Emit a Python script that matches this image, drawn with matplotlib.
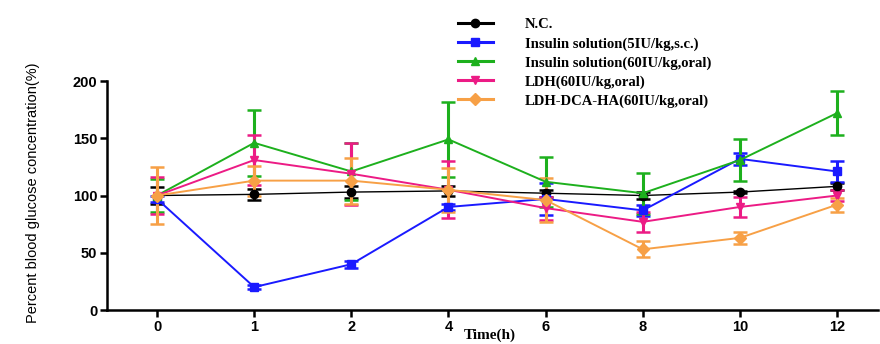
import matplotlib.pyplot as plt
from matplotlib.lines import Line2D
import numpy as np

times = ["0", "1", "2", "4", "6", "8", "10", "12"]

nc = [100, 101, 103, 104, 102, 100, 103, 108]
nc_err = [7, 5, 5, 4, 3, 3, 1, 3]

ins_sc = [97, 20, 40, 90, 97, 87, 132, 121]
ins_sc_err = [3, 2, 3, 3, 14, 5, 5, 9]

ins_oral = [100, 146, 121, 149, 112, 102, 131, 172]
ins_oral_err = [14, 29, 25, 33, 22, 18, 18, 19]

ldh = [100, 131, 119, 105, 89, 77, 90, 100]
ldh_err = [16, 22, 27, 25, 10, 9, 9, 5]

ldh_dca = [100, 113, 113, 105, 96, 53, 63, 92]
ldh_dca_err = [25, 13, 20, 19, 19, 7, 5, 6]

labels = ["N.C.", "Insulin solution(5IU/kg,s.c.)", "Insulin solution(60IU/kg,oral)",
          "LDH(60IU/kg,oral)", "LDH-DCA-HA(60IU/kg,oral)"]

series = [
    (nc, nc_err, "black", "o", 1.0),
    (ins_sc, ins_sc_err, "#1a1aff", "s", 1.4),
    (ins_oral, ins_oral_err, "#1db01d", "^", 1.4),
    (ldh, ldh_err, "#ec1b85", "v", 1.4),
    (ldh_dca, ldh_dca_err, "#f7a046", "D", 1.4),
]

fig = plt.figure(figsize=(8.8, 3.44), dpi=100)
ax = fig.add_axes([0.1216, 0.0988, 0.876, 0.6657])

x = np.arange(len(times))
handles = []
for vals, errs, col, mk, lw in series:
    ax.errorbar(x, vals, yerr=errs, color=col, marker=mk, markersize=6,
                linewidth=lw, elinewidth=2.2, capsize=5, capthick=1.8)
    handles.append(Line2D([], [], color=col, marker=mk, markersize=6, linewidth=2.2))

ax.set_xlim(-0.515, 7.42)
ax.set_ylim(0, 200)
ax.set_xticks(x)
ax.set_xticklabels(times)
ax.set_yticks([0, 50, 100, 150, 200])

for side in ["top", "right"]:
    ax.spines[side].set_visible(False)
for side in ["left", "bottom"]:
    ax.spines[side].set_linewidth(1.8)
ax.tick_params(axis="both", width=1.8, length=5, labelsize=10.5, direction="out", pad=2)
for t in ax.get_xticklabels() + ax.get_yticklabels():
    t.set_fontweight("bold")
    t.set_family("Liberation Sans")

fig.text(0.557, 0.025, "Time(h)", family="Liberation Serif", fontweight="bold",
         fontsize=11, ha="center", va="center")
fig.text(0.038, 0.44, "Percent blood glucose concentration(%)", rotation=90,
         family="Liberation Sans", fontsize=10.5, ha="center", va="center")

fig.legend(handles=handles, labels=labels, loc="upper left",
           bbox_to_anchor=(0.505, 0.985), frameon=False,
           prop={"family": "Liberation Serif", "weight": "bold", "size": 10.5},
           handlelength=2.4, labelspacing=0.38, handletextpad=2.2)

fig.savefig("out.png", dpi=100)
